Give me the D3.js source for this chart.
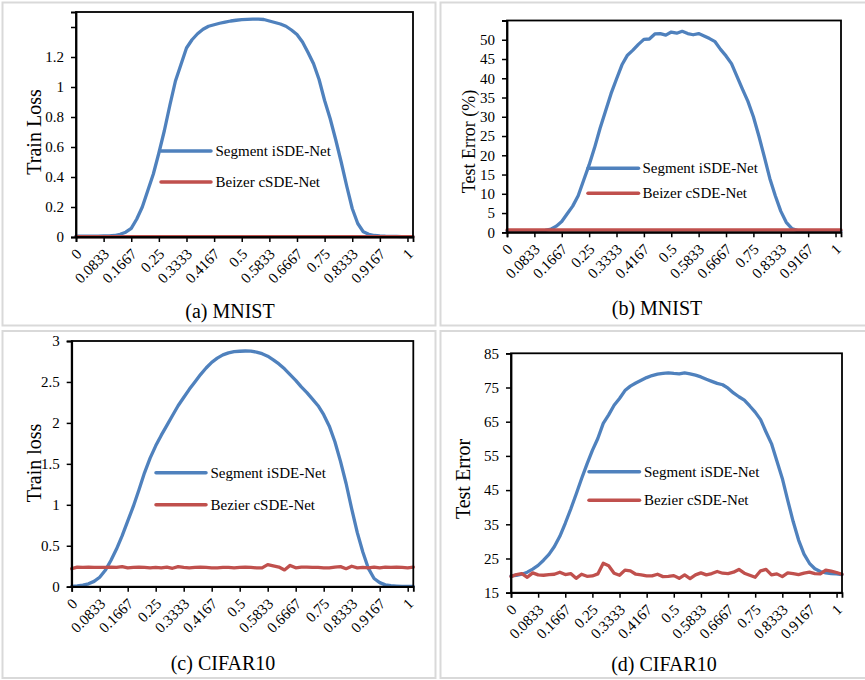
<!DOCTYPE html>
<html>
<head>
<meta charset="utf-8">
<script src="https://cdn.jsdelivr.net/npm/d3@7"></script>
<style>
  html, body { margin: 0; padding: 0; background: #fff; }
  svg { display: block; }
  text { font-family: "Liberation Serif", "Times New Roman", serif; fill: #000; }
</style>
</head>
<body>
<svg id="chart" width="865" height="680"></svg>
<script>
// Interpolation position t (0 .. 1, step 1/60) — 62 samples, index 0..61
const xIndex = d3.range(62);
const xTickIndex = [0, 5, 10, 15, 20, 25, 30, 35, 40, 45, 50, 55, 60];
const xTickLabels = ["0", "0.0833", "0.1667", "0.25", "0.3333", "0.4167", "0.5",
                     "0.5833", "0.6667", "0.75", "0.8333", "0.9167", "1"];

// (a) MNIST train loss
const mnistLossSegment = [0.005, 0.005, 0.005, 0.006, 0.006, 0.007, 0.008, 0.010, 0.018, 0.032,
  0.058, 0.12, 0.20, 0.31, 0.42, 0.56, 0.71, 0.88, 1.04, 1.15,
  1.26, 1.315, 1.355, 1.385, 1.405, 1.415, 1.425, 1.433, 1.44, 1.445,
  1.449, 1.451, 1.452, 1.452, 1.45, 1.44, 1.43, 1.42, 1.405, 1.38,
  1.35, 1.30, 1.23, 1.155, 1.05, 0.91, 0.79, 0.65, 0.50, 0.34,
  0.19, 0.09, 0.035, 0.018, 0.010, 0.007, 0.005, 0.004, 0.004, 0.003,
  0.003, 0.003];
const mnistLossBezier = [0.003, 0.003, 0.003, 0.002, 0.003, 0.003, 0.003, 0.002, 0.003, 0.003,
  0.003, 0.003, 0.002, 0.003, 0.003, 0.003, 0.003, 0.003, 0.002, 0.003,
  0.003, 0.003, 0.003, 0.003, 0.002, 0.003, 0.003, 0.003, 0.003, 0.003,
  0.002, 0.003, 0.003, 0.003, 0.003, 0.003, 0.002, 0.003, 0.003, 0.003,
  0.003, 0.003, 0.003, 0.002, 0.003, 0.003, 0.003, 0.003, 0.003, 0.002,
  0.003, 0.003, 0.003, 0.003, 0.003, 0.003, 0.002, 0.003, 0.003, 0.003,
  0.003, 0.003];
const mnistLossTicks = [0, 0.2, 0.4, 0.6, 0.8, 1, 1.2, 1.4];
const mnistLossTickLabels = ["0", "0.2", "0.4", "0.6", "0.8", "1", "1.2", ""];

// (b) MNIST test error (%)
const mnistErrSegment = [0.3, 0.3, 0.3, 0.3, 0.3, 0.3, 0.35, 0.5, 0.8, 1.6,
  2.8, 4.8, 6.8, 9.5, 13.5, 17.5, 22.0, 27.0, 31.5, 36.0,
  39.8, 43.5, 46.0, 47.3, 48.8, 50.1, 50.2, 51.5, 51.6, 51.2,
  52.0, 51.7, 52.2, 51.6, 51.3, 51.6, 51.0, 50.3, 49.5, 47.5,
  45.8, 43.8, 40.5, 37.2, 34.0, 30.0, 25.0, 19.6, 14.0, 9.5,
  5.5, 2.6, 1.0, 0.5, 0.35, 0.3, 0.3, 0.3, 0.3, 0.3,
  0.3, 0.3];
const mnistErrBezier = [0.6, 0.6, 0.6, 0.6, 0.6, 0.6, 0.6, 0.6, 0.6, 0.6,
  0.6, 0.6, 0.6, 0.6, 0.6, 0.6, 0.6, 0.6, 0.6, 0.6,
  0.6, 0.6, 0.6, 0.6, 0.6, 0.6, 0.6, 0.6, 0.6, 0.6,
  0.6, 0.6, 0.6, 0.6, 0.6, 0.6, 0.6, 0.6, 0.6, 0.6,
  0.6, 0.6, 0.6, 0.6, 0.6, 0.6, 0.6, 0.6, 0.6, 0.6,
  0.6, 0.6, 0.6, 0.6, 0.6, 0.6, 0.6, 0.6, 0.6, 0.6,
  0.6, 0.6];
const mnistErrTicks = [0, 5, 10, 15, 20, 25, 30, 35, 40, 45, 50];
const mnistErrTickLabels = ["0", "5", "10", "15", "20", "25", "30", "35", "40", "45", "50"];

// (c) CIFAR10 train loss
const cifarLossSegment = [0.005, 0.01, 0.02, 0.035, 0.065, 0.115, 0.20, 0.32, 0.46, 0.62,
  0.80, 0.98, 1.18, 1.39, 1.57, 1.72, 1.85, 1.97, 2.09, 2.21,
  2.31, 2.41, 2.50, 2.59, 2.67, 2.74, 2.79, 2.83, 2.855, 2.87,
  2.875, 2.878, 2.876, 2.865, 2.845, 2.815, 2.77, 2.72, 2.66, 2.59,
  2.52, 2.44, 2.37, 2.29, 2.21, 2.10, 1.96, 1.77, 1.53, 1.26,
  0.95, 0.66, 0.42, 0.22, 0.10, 0.05, 0.022, 0.012, 0.008, 0.005,
  0.004, 0.004];
const cifarLossBezier = [0.22, 0.24, 0.235, 0.24, 0.235, 0.235, 0.235, 0.24, 0.235, 0.245,
  0.23, 0.235, 0.24, 0.235, 0.23, 0.235, 0.23, 0.24, 0.225, 0.245,
  0.235, 0.23, 0.235, 0.24, 0.235, 0.23, 0.23, 0.235, 0.235, 0.23,
  0.235, 0.24, 0.235, 0.23, 0.23, 0.27, 0.255, 0.24, 0.205, 0.26,
  0.23, 0.24, 0.24, 0.235, 0.235, 0.23, 0.23, 0.24, 0.245, 0.22,
  0.25, 0.23, 0.235, 0.23, 0.24, 0.23, 0.24, 0.235, 0.24, 0.235,
  0.23, 0.24];
const cifarLossTicks = [0, 0.5, 1, 1.5, 2, 2.5, 3];
const cifarLossTickLabels = ["0", "0.5", "1", "1.5", "2", "2.5", "3"];

// (d) CIFAR10 test error
const cifarErrSegment = [19.9, 20.1, 20.4, 21.0, 21.9, 23.0, 24.5, 26.2, 28.5, 31.5,
  35.3, 39.4, 43.8, 48.3, 52.6, 56.6, 60.1, 64.5, 67.0, 69.8,
  71.8, 74.1, 75.4, 76.3, 77.1, 77.9, 78.5, 78.9, 79.1, 79.3,
  79.1, 79.0, 79.3, 79.0, 78.6, 78.1, 77.4, 76.8, 76.2, 75.8,
  74.8, 73.4, 72.3, 71.3, 69.6, 67.8, 65.6, 62.0, 58.6, 53.5,
  48.4, 42.0, 35.8, 30.4, 26.3, 23.6, 22.0, 21.2, 20.8, 20.6,
  20.5, 20.3];
const cifarErrBezier = [19.7, 20.3, 20.6, 19.5, 20.8, 20.2, 20.1, 20.3, 20.4, 21.0,
  20.3, 20.6, 19.2, 20.4, 19.8, 19.9, 20.5, 23.6, 22.9, 20.7,
  20.1, 21.6, 21.4, 20.4, 20.2, 19.9, 19.9, 20.4, 19.7, 19.8,
  20.0, 19.2, 20.2, 19.1, 20.2, 20.8, 20.2, 20.6, 21.2, 20.7,
  20.6, 21.0, 21.8, 20.7, 20.1, 19.5, 21.4, 21.8, 20.2, 20.5,
  19.7, 20.8, 20.6, 20.3, 20.7, 21.0, 20.6, 20.5, 21.6, 21.3,
  20.9, 20.4];
const cifarErrTicks = [15, 25, 35, 45, 55, 65, 75, 85];
const cifarErrTickLabels = ["15", "25", "35", "45", "55", "65", "75", "85"];

const BLUE = "#4f81bd";
const RED = "#c0504d";

const svg = d3.select("#chart");

// Light grey frames around each sub-figure
const frames = [
  { x: 2.5, y: 2.5, w: 433, h: 323 },
  { x: 440.5, y: 2.5, w: 426, h: 323 },
  { x: 2.5, y: 331, w: 433, h: 347 },
  { x: 440.5, y: 331, w: 426, h: 347 }
];
svg.selectAll("rect.frame").data(frames).join("rect")
  .attr("class", "frame")
  .attr("x", d => d.x).attr("y", d => d.y)
  .attr("width", d => d.w).attr("height", d => d.h)
  .attr("fill", "none").attr("stroke", "#d9d9d9").attr("stroke-width", 2);

const panels = [
  { plot: { l: 76, t: 12, r: 413, b: 237 }, yDomain: [0, 1.5],
    seg: mnistLossSegment, bez: mnistLossBezier,
    ticks: mnistLossTicks, tickLabels: mnistLossTickLabels,
    yTitle: "Train Loss", yTitlePos: [34, 132], yTitleSize: 20,
    caption: "(a) MNIST", capPos: [230, 317.5],
    legend: { x0: 161, x1: 211, y1: 151, y2: 182, tx: 215.5 },
    names: ["Segment iSDE-Net", "Beizer cSDE-Net"] },
  { plot: { l: 507, t: 20.5, r: 841, b: 232.3 }, yDomain: [0, 55],
    seg: mnistErrSegment, bez: mnistErrBezier,
    ticks: mnistErrTicks, tickLabels: mnistErrTickLabels,
    yTitle: "Test Error (%)", yTitlePos: [469, 141.5], yTitleSize: 18,
    caption: "(b) MNIST", capPos: [657, 315],
    legend: { x0: 588, x1: 638.5, y1: 168.3, y2: 193.3, tx: 642.5 },
    names: ["Segment iSDE-Net", "Beizer cSDE-Net"] },
  { plot: { l: 71.7, t: 341, r: 413.3, b: 586.7 }, yDomain: [0, 3],
    seg: cifarLossSegment, bez: cifarLossBezier,
    ticks: cifarLossTicks, tickLabels: cifarLossTickLabels,
    yTitle: "Train loss", yTitlePos: [34, 463], yTitleSize: 20,
    caption: "(c) CIFAR10", capPos: [223, 670],
    legend: { x0: 156, x1: 206, y1: 472.7, y2: 504.7, tx: 210.5 },
    names: ["Segment iSDE-Net", "Bezier cSDE-Net"] },
  { plot: { l: 511, t: 353.3, r: 842, b: 592.7 }, yDomain: [15, 85],
    seg: cifarErrSegment, bez: cifarErrBezier,
    ticks: cifarErrTicks, tickLabels: cifarErrTickLabels,
    yTitle: "Test Error", yTitlePos: [462.5, 479], yTitleSize: 20,
    caption: "(d) CIFAR10", capPos: [664, 670.5],
    legend: { x0: 589, x1: 639.5, y1: 471.7, y2: 500.3, tx: 644 },
    names: ["Segment iSDE-Net", "Bezier cSDE-Net"] }
];

panels.forEach(p => {
  const g = svg.append("g");
  const x = d3.scaleLinear().domain([0, xIndex.length - 1]).range([p.plot.l, p.plot.r]);
  const y = d3.scaleLinear().domain(p.yDomain).range([p.plot.b, p.plot.t]);

  // Series lines
  const line = d3.line().x((d, i) => x(xIndex[i])).y(d => y(d));
  g.append("path").datum(p.seg)
    .attr("d", line).attr("fill", "none").attr("stroke", BLUE)
    .attr("stroke-width", 3.3).attr("stroke-linejoin", "round").attr("stroke-linecap", "round");
  g.append("path").datum(p.bez)
    .attr("d", line).attr("fill", "none").attr("stroke", RED)
    .attr("stroke-width", 3.3).attr("stroke-linejoin", "round").attr("stroke-linecap", "round");

  // Plot border
  g.append("rect")
    .attr("x", p.plot.l).attr("y", p.plot.t)
    .attr("width", p.plot.r - p.plot.l).attr("height", p.plot.b - p.plot.t)
    .attr("fill", "none").attr("stroke", "#000").attr("stroke-width", 1.8);

  // Y axis
  const yAxis = d3.axisLeft(y)
    .tickValues(p.ticks)
    .tickFormat((d, i) => p.tickLabels[i])
    .tickSize(5).tickPadding(7);
  const ya = g.append("g").attr("transform", `translate(${p.plot.l},0)`).call(yAxis);
  ya.select(".domain").attr("stroke", "#000").attr("stroke-width", 1.8);
  ya.selectAll(".tick line").attr("stroke", "#000").attr("stroke-width", 1.5);
  ya.selectAll(".tick text").style("font-family", "Liberation Serif").style("font-size", "15px");

  // X axis (rotated labels)
  const xAxis = d3.axisBottom(x)
    .tickValues(xTickIndex)
    .tickFormat((d, i) => xTickLabels[i])
    .tickSize(5);
  const xa = g.append("g").attr("transform", `translate(0,${p.plot.b})`).call(xAxis);
  xa.select(".domain").attr("stroke", "#000").attr("stroke-width", 1.8);
  xa.selectAll(".tick line").attr("stroke", "#000").attr("stroke-width", 1.5);
  xa.selectAll(".tick text")
    .style("font-family", "Liberation Serif").style("font-size", "15px")
    .attr("text-anchor", "end").attr("dy", null).attr("y", null)
    .attr("transform", "translate(6,18) rotate(-45)");

  // Y axis title
  g.append("text")
    .attr("transform", `translate(${p.yTitlePos[0]},${p.yTitlePos[1]}) rotate(-90)`)
    .attr("text-anchor", "middle").attr("dy", "0.35em")
    .style("font-size", p.yTitleSize + "px")
    .text(p.yTitle);

  // Caption
  g.append("text")
    .attr("x", p.capPos[0]).attr("y", p.capPos[1])
    .attr("text-anchor", "middle").style("font-size", "20px")
    .text(p.caption);

  // Legend
  const lg = p.legend;
  [[lg.y1, BLUE, p.names[0]], [lg.y2, RED, p.names[1]]].forEach(([ly, col, name]) => {
    g.append("line").attr("x1", lg.x0).attr("x2", lg.x1).attr("y1", ly).attr("y2", ly)
      .attr("stroke", col).attr("stroke-width", 3.5).attr("stroke-linecap", "round");
    g.append("text").attr("x", lg.tx).attr("y", ly).attr("dy", "0.33em")
      .style("font-size", "15px").text(name);
  });
});
</script>
</body>
</html>
